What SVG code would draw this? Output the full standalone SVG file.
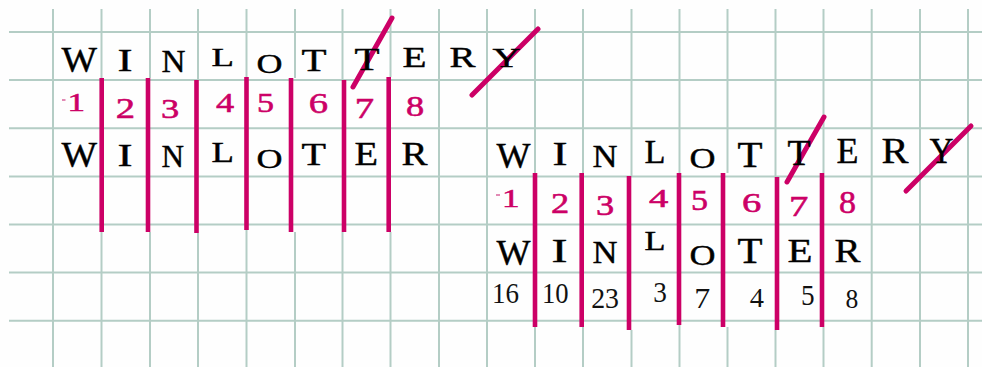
<svg xmlns="http://www.w3.org/2000/svg" width="982" height="367" viewBox="0 0 982 367">
<style>
.g{stroke:#b4cdc5;stroke-width:2;fill:none}
.bar{stroke:#cc0066;stroke-width:4.6;fill:none}
.slash{stroke:#cc0066;stroke-width:5;stroke-linecap:round;fill:none}
.dash{stroke:#d65a95;stroke-width:1.4}
.L{font-family:"Liberation Serif","Times New Roman",serif;fill:#000;stroke:#000;stroke-width:0.4}
.R{font-family:"Liberation Serif","Times New Roman",serif;fill:#cc0066;stroke:#cc0066;stroke-width:0.55}
.S{font-family:"Liberation Serif","Times New Roman",serif;fill:#111}
</style>
<rect width="982" height="367" fill="#fefefe"/>
<g id="grid">
<path class="g" d="M9 32H982M9 80.1H982M9 128.2H982M9 176.4H982M9 224.5H982M9 272.6H982M9 320.7H982"/>
<path class="g" d="M53 9V367M439 9V367M487 9V367M871.7 9V367M920 9V367M968 9V367"/>
<path class="g" d="M101.5 9V78M101.5 232V367M150 9V78M150 232V367M198 9V80M198 233V367M246.5 9V77M246.5 230V367M295 9V78M295 232V367M342.5 9V80M342.5 232V367M390.5 9V77M390.5 232V367"/>
<path class="g" d="M535 9V173M535 327V367M583 9V173M583 327V367M631.5 9V176M631.5 330V367M679.5 9V173M679.5 325V367M727.5 9V173M727.5 327V367M775.5 9V177M775.5 330V367M823.5 9V173M823.5 327V367"/>
</g>
<g id="connectors">
<g id="left-bars">
<line class="bar" x1="101.7" y1="78" x2="101.7" y2="232"/>
<line class="bar" x1="148" y1="78" x2="148" y2="232"/>
<line class="bar" x1="196.5" y1="80" x2="196.5" y2="233"/>
<line class="bar" x1="246.5" y1="77" x2="246.5" y2="230"/>
<line class="bar" x1="291" y1="78" x2="291" y2="232"/>
<line class="bar" x1="344" y1="80" x2="344" y2="232"/>
<line class="bar" x1="388.7" y1="77" x2="388.7" y2="232"/>
</g>
<g id="right-bars">
<line class="bar" x1="535" y1="173" x2="535" y2="327"/>
<line class="bar" x1="581.7" y1="173" x2="581.7" y2="327"/>
<line class="bar" x1="629" y1="176" x2="629" y2="330"/>
<line class="bar" x1="679" y1="173" x2="679" y2="325"/>
<line class="bar" x1="723" y1="173" x2="723" y2="327"/>
<line class="bar" x1="777" y1="177" x2="777" y2="330"/>
<line class="bar" x1="822" y1="173" x2="822" y2="327"/>
</g>
<g id="slashes">
<line class="slash" x1="353" y1="87" x2="392" y2="18"/>
<line class="slash" x1="472" y1="95" x2="538" y2="29"/>
<line class="slash" x1="787" y1="182" x2="824" y2="117"/>
<line class="slash" x1="906" y1="191" x2="971" y2="126"/>
</g>
</g>
<g id="left-row1">
<text class="L" x="61.5" y="71.7" font-size="35" textLength="35.5" lengthAdjust="spacingAndGlyphs">W</text>
<text class="L" x="117.5" y="70.5" font-size="32" textLength="15" lengthAdjust="spacingAndGlyphs">I</text>
<text class="L" x="161.5" y="71.7" font-size="32" textLength="24" lengthAdjust="spacingAndGlyphs">N</text>
<text class="L" x="211.5" y="66" font-size="25" textLength="22.5" lengthAdjust="spacingAndGlyphs">L</text>
<text class="L" x="256.5" y="73" font-size="27" textLength="26" lengthAdjust="spacingAndGlyphs">O</text>
<text class="L" x="301.5" y="71" font-size="31" textLength="25" lengthAdjust="spacingAndGlyphs">T</text>
<text class="L" x="354.5" y="70" font-size="31" textLength="25" lengthAdjust="spacingAndGlyphs">T</text>
<text class="L" x="402.5" y="67" font-size="30" textLength="24" lengthAdjust="spacingAndGlyphs">E</text>
<text class="L" x="449.5" y="67" font-size="30" textLength="26" lengthAdjust="spacingAndGlyphs">R</text>
<text class="L" x="492.5" y="67" font-size="28" textLength="28" lengthAdjust="spacingAndGlyphs">Y</text>
</g>
<g id="left-row2">
<line class="dash" x1="62" y1="100" x2="65.5" y2="100"/>
<text class="R" x="67.5" y="111" font-size="25" textLength="17.5" lengthAdjust="spacingAndGlyphs">1</text>
<text class="R" x="115.8" y="117.5" font-size="29" textLength="19.3" lengthAdjust="spacingAndGlyphs">2</text>
<text class="R" x="160.9" y="118" font-size="27" textLength="18.2" lengthAdjust="spacingAndGlyphs">3</text>
<text class="R" x="215.9" y="112" font-size="28" textLength="18.2" lengthAdjust="spacingAndGlyphs">4</text>
<text class="R" x="257" y="112" font-size="28" textLength="17" lengthAdjust="spacingAndGlyphs">5</text>
<text class="R" x="308.8" y="113" font-size="29" textLength="19.3" lengthAdjust="spacingAndGlyphs">6</text>
<text class="R" x="354.8" y="118" font-size="29" textLength="19.3" lengthAdjust="spacingAndGlyphs" stroke-width="0.1">7</text>
<text class="R" x="405.9" y="116" font-size="30" textLength="18.2" lengthAdjust="spacingAndGlyphs">8</text>
</g>
<g id="left-row3">
<text class="L" x="61.5" y="167" font-size="36" textLength="35.5" lengthAdjust="spacingAndGlyphs">W</text>
<text class="L" x="117.5" y="165.5" font-size="32" textLength="15" lengthAdjust="spacingAndGlyphs">I</text>
<text class="L" x="161.5" y="167" font-size="32" textLength="22.5" lengthAdjust="spacingAndGlyphs">N</text>
<text class="L" x="211.5" y="162" font-size="29" textLength="22.5" lengthAdjust="spacingAndGlyphs">L</text>
<text class="L" x="256.5" y="168" font-size="27" textLength="26" lengthAdjust="spacingAndGlyphs">O</text>
<text class="L" x="301.5" y="165" font-size="31" textLength="24.5" lengthAdjust="spacingAndGlyphs">T</text>
<text class="L" x="354.5" y="165" font-size="33" textLength="23.5" lengthAdjust="spacingAndGlyphs">E</text>
<text class="L" x="401.5" y="165" font-size="33" textLength="26" lengthAdjust="spacingAndGlyphs">R</text>
</g>
<g id="right-row1">
<text class="L" x="496.5" y="168" font-size="35" textLength="34" lengthAdjust="spacingAndGlyphs">W</text>
<text class="L" x="552.5" y="165" font-size="33" textLength="15" lengthAdjust="spacingAndGlyphs">I</text>
<text class="L" x="592.5" y="167" font-size="32" textLength="25" lengthAdjust="spacingAndGlyphs">N</text>
<text class="L" x="644.5" y="163" font-size="33" textLength="21" lengthAdjust="spacingAndGlyphs">L</text>
<text class="L" x="689.5" y="168" font-size="30" textLength="26" lengthAdjust="spacingAndGlyphs">O</text>
<text class="L" x="737.5" y="167" font-size="35" textLength="25" lengthAdjust="spacingAndGlyphs">T</text>
<text class="L" x="787.5" y="165" font-size="35" textLength="23" lengthAdjust="spacingAndGlyphs">T</text>
<text class="L" x="836.5" y="163" font-size="35" textLength="22" lengthAdjust="spacingAndGlyphs">E</text>
<text class="L" x="881.5" y="163" font-size="35" textLength="27" lengthAdjust="spacingAndGlyphs">R</text>
<text class="L" x="929.5" y="163" font-size="35" textLength="24" lengthAdjust="spacingAndGlyphs">Y</text>
</g>
<g id="right-row2">
<line class="dash" x1="496" y1="195" x2="500" y2="195"/>
<text class="R" x="502" y="207" font-size="25" textLength="17.5" lengthAdjust="spacingAndGlyphs">1</text>
<text class="R" x="551" y="213" font-size="29.5" textLength="18.2" lengthAdjust="spacingAndGlyphs">2</text>
<text class="R" x="596" y="215" font-size="29.5" textLength="18.2" lengthAdjust="spacingAndGlyphs">3</text>
<text class="R" x="649" y="207" font-size="25" textLength="19.3" lengthAdjust="spacingAndGlyphs">4</text>
<text class="R" x="691" y="210" font-size="29.5" textLength="17" lengthAdjust="spacingAndGlyphs">5</text>
<text class="R" x="742" y="212" font-size="28" textLength="19.3" lengthAdjust="spacingAndGlyphs">6</text>
<text class="R" x="789" y="216" font-size="30" textLength="19.3" lengthAdjust="spacingAndGlyphs" stroke-width="0.1">7</text>
<text class="R" x="839" y="213" font-size="31" textLength="17" lengthAdjust="spacingAndGlyphs">8</text>
</g>
<g id="right-row3">
<text class="L" x="496.5" y="265" font-size="35" textLength="34" lengthAdjust="spacingAndGlyphs">W</text>
<text class="L" x="551.5" y="262" font-size="33" textLength="16" lengthAdjust="spacingAndGlyphs">I</text>
<text class="L" x="592.5" y="263" font-size="32" textLength="25" lengthAdjust="spacingAndGlyphs">N</text>
<text class="L" x="644.5" y="250" font-size="27" textLength="21" lengthAdjust="spacingAndGlyphs">L</text>
<text class="L" x="689.5" y="265" font-size="30" textLength="26" lengthAdjust="spacingAndGlyphs">O</text>
<text class="L" x="737.5" y="263" font-size="35" textLength="25" lengthAdjust="spacingAndGlyphs">T</text>
<text class="L" x="787.5" y="262" font-size="33" textLength="25" lengthAdjust="spacingAndGlyphs">E</text>
<text class="L" x="834.5" y="262" font-size="33" textLength="26" lengthAdjust="spacingAndGlyphs">R</text>
</g>
<g id="right-row4">
<text class="S" x="492" y="303" font-size="29.5" textLength="27" lengthAdjust="spacingAndGlyphs">16</text>
<text class="S" x="542" y="303" font-size="29.5" textLength="26.6" lengthAdjust="spacingAndGlyphs">10</text>
<text class="S" x="591.2" y="308" font-size="29.5" textLength="27.8" lengthAdjust="spacingAndGlyphs">23</text>
<text class="S" x="653.3" y="302" font-size="29" textLength="13.6" lengthAdjust="spacingAndGlyphs">3</text>
<text class="S" x="694.3" y="308" font-size="29" textLength="16" lengthAdjust="spacingAndGlyphs">7</text>
<text class="S" x="749.7" y="307" font-size="28" textLength="14.2" lengthAdjust="spacingAndGlyphs">4</text>
<text class="S" x="801.1" y="305" font-size="30" textLength="13.6" lengthAdjust="spacingAndGlyphs">5</text>
<text class="S" x="845.6" y="308" font-size="27" textLength="12.8" lengthAdjust="spacingAndGlyphs">8</text>
</g>
</svg>
